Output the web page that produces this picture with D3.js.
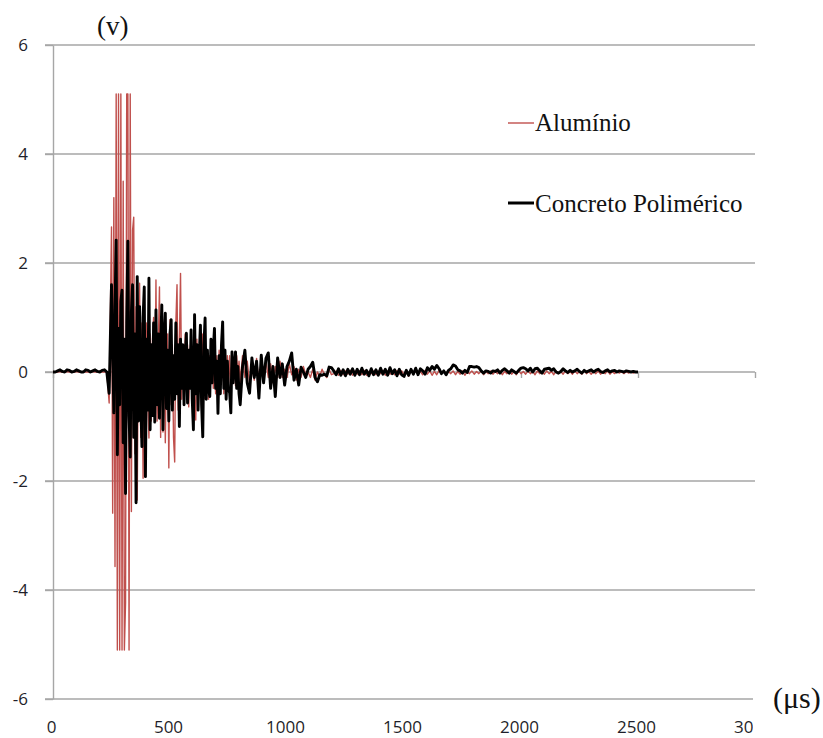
<!DOCTYPE html>
<html>
<head>
<meta charset="utf-8">
<script src="https://cdn.jsdelivr.net/npm/d3@7"></script>
<style>
  body { margin: 0; background: #fff; }
  svg { display: block; }
</style>
</head>
<body>
<svg id="chart" width="823" height="738"></svg>
<script>
// Axis ticks
const xTicks = [0, 500, 1000, 1500, 2000, 2500, 3000];
const yTicks = [-6, -4, -2, 0, 2, 4, 6];

// Series names and colours
const seriesNames = ["Alumínio", "Concreto Polimérico"];
const seriesColors = ["#c0504d", "#000000"];

// Sampling of the recorded signals (µs): pre-trigger, burst and tail segments
const preStart = 0, preStep = 10;
const burstStart = 250, burstStep = 5;
const tailStart = 800, tailStep = 10;
const endTime = 2500;

// Alumínio (V)
const aluminioPre = [
  0.01, 0.0, 0.0, 0.01, 0.0, 0.0, 0.01, 0.0, 0.0, 0.0,
  0.01, 0.0, 0.0, 0.01, 0.0, 0.0, 0.0, 0.01, 0.0, 0.0,
  0.01, 0.0, 0.0, 0.0, -0.57
];
const aluminioBurst = [
  2.66, -2.59, 3.2, -3.57, 5.1, -5.1, 5.1, -5.1, 5.1, -5.1,
  3.5, -5.1, -4.24, 5.1, 5.1, -5.1, 5.1, -2.56, 2.6, 2.84,
  -1.5, 1.2, -2.35, 0.8, 1.63, -1.2, 0.9, -1.95, 1.1, -0.8,
  0.9, -0.5, -1.21, 0.7, -0.9, 0.6, 1.0, -0.7, 1.69, -0.9,
  0.5, 1.56, -1.2, 0.8, -1.1, 0.6, -1.3, 0.5, 0.7, -1.76,
  0.96, -0.6, 0.5, -1.2, -1.65, 0.9, 1.6, -0.7, 0.5, 1.81,
  -0.5, 0.4, -0.6, 0.7, -0.3, 0.5, -0.64, 0.3, 0.6, -0.4,
  0.3, -0.5, -0.88, 0.6, -0.3, 0.5, -0.4, 0.3, 0.7, -0.5,
  0.6, -0.3, 0.4, -0.5, 0.3, -0.2, 0.5, -0.3, 0.2, -0.4,
  0.3, -0.2, 0.4, -0.3, 0.2, 0.5, -0.4, 0.2, -0.3, 0.3,
  -0.2, 0.3, -0.3, 0.25, -0.1, 0.2, -0.25, 0.3, -0.1, 0.2
];
const aluminioTail = [
  -0.2, 0.3, -0.1, 0.2, -0.2, 0.1, -0.15, 0.25, -0.2, 0.1,
  -0.15, 0.2, -0.1, 0.15, -0.2, 0.1, -0.1, 0.2, -0.1, 0.05,
  -0.1, 0.15, -0.05, 0.1, -0.15, 0.05, -0.1, 0.1, -0.05, 0.0,
  -0.1, 0.05, -0.15, 0.0, -0.08, 0.05, -0.05, -0.1, 0.05, -0.05,
  -0.03, 0.02, -0.06, 0.03, -0.05, 0.02, -0.04, 0.03, -0.06, 0.02,
  -0.04, 0.02, -0.05, 0.03, -0.06, 0.01, -0.03, 0.02, -0.05, 0.02,
  -0.03, 0.03, -0.06, 0.02, -0.04, 0.01, -0.05, 0.03, -0.04, 0.02,
  -0.05, 0.02, -0.08, 0.03, -0.04, 0.02, -0.03, 0.01, -0.05, 0.03,
  -0.04, 0.02, -0.06, 0.01, -0.05, 0.03, -0.03, 0.02, -0.04, 0.01,
  -0.03, 0.02, -0.05, 0.01, -0.04, 0.02, -0.06, 0.01, -0.03, 0.02,
  -0.04, 0.01, -0.03, 0.02, -0.05, 0.01, -0.03, 0.02, -0.04, 0.01,
  -0.03, 0.02, -0.05, 0.01, -0.03, 0.02, -0.04, 0.01, -0.05, 0.02,
  -0.03, 0.01, -0.04, 0.02, -0.03, 0.01, -0.05, 0.02, -0.03, 0.01,
  -0.04, 0.02, -0.03, 0.01, -0.05, 0.02, -0.03, 0.01, -0.04, 0.02,
  -0.03, 0.01, -0.04, 0.02, -0.03, 0.01, -0.04, 0.02, -0.03, 0.01,
  -0.04, 0.01, -0.03, 0.02, -0.04, 0.01, -0.03, 0.02, -0.04, 0.01,
  -0.03, 0.01, -0.02, 0.01, -0.03, 0.01, -0.02, 0.01, -0.02, 0.0,
  0.0
];

// Concreto Polimérico (V)
const concretoPre = [
  0.0, 0.0, 0.02, 0.04, 0.01, 0.0, 0.04, 0.03, 0.0, 0.01,
  0.04, 0.02, 0.0, 0.0, 0.04, 0.03, 0.0, 0.02, 0.04, 0.01,
  0.0, 0.03, 0.04, 0.0, -0.39
];
const concretoBurst = [
  1.6, 0.4, -0.75, 1.2, 2.42, -1.52, 0.8, -0.6, 1.3, 1.5,
  -1.3, 0.6, -2.23, 0.9, 2.4, -0.8, -1.56, 1.1, 1.6, -1.2,
  0.7, -2.4, 1.75, -0.9, 1.2, -0.5, -1.37, 1.0, 1.56, -1.92,
  0.6, -0.7, 1.72, -1.06, 0.5, -0.8, 0.9, -0.92, 1.14, -0.6,
  0.7, -0.85, 0.5, 1.23, -1.06, 0.6, 1.08, -0.67, 0.4, -0.9,
  0.7, 0.96, -0.7, 0.3, -0.5, 0.9, -0.4, 0.5, -1.0, 0.6,
  -0.3, 0.5, -0.6, 0.3, 0.71, -0.57, 0.4, -0.3, 0.77, -0.5,
  -1.06, 1.05, -0.4, 0.5, -0.7, 0.3, 0.86, -0.6, -1.19, 0.5,
  0.99, -0.5, 0.4, -0.3, -0.45, 0.6, -0.2, 0.4, 0.8, -0.3,
  0.2, -0.76, 0.3, -0.4, 0.5, 0.92, -0.3, 0.4, -0.5, 0.2,
  -0.3, -0.39, -0.75, 0.37, -0.2, 0.1, 0.37, -0.3, 0.1, -0.4
];
const concretoTail = [
  -0.6, 0.1, 0.4, -0.2, -0.39, 0.26, -0.1, 0.2, -0.48, 0.31,
  -0.2, 0.25, 0.35, -0.3, 0.1, -0.45, 0.26, -0.1, 0.15, -0.24,
  0.1, 0.2, 0.35, -0.15, 0.05, -0.24, 0.09, 0.0, -0.1, 0.05,
  0.1, 0.18, -0.1, -0.18, -0.05, -0.06, -0.04, -0.07, 0.09, 0.08,
  0.02, -0.05, 0.06, -0.06, 0.04, -0.07, 0.05, -0.04, 0.06, -0.06,
  0.05, -0.05, 0.07, -0.04, 0.03, -0.07, 0.06, -0.05, 0.04, -0.06,
  0.07, -0.04, 0.05, -0.06, 0.08, -0.03, 0.04, -0.07, 0.05, -0.05,
  -0.08, 0.03, -0.06, 0.05, -0.04, 0.07, -0.05, 0.06, 0.02, -0.04,
  0.08, 0.03, 0.1, 0.05, 0.12, 0.06, -0.03, 0.02, -0.05, 0.03,
  0.06, 0.13, 0.11, 0.04, 0.02, -0.02, 0.03, -0.01, 0.1, 0.1,
  0.09, 0.1, 0.08, 0.02, -0.02, 0.02, 0.01, -0.02, 0.02, 0.01,
  0.04, -0.02, 0.03, 0.06, 0.02, -0.02, 0.04, 0.01, -0.02, 0.03,
  0.07, 0.08, 0.06, 0.02, 0.07, 0.0, 0.06, 0.07, 0.02, -0.02,
  0.05, 0.06, 0.07, 0.03, 0.06, 0.0, -0.02, 0.01, 0.06, 0.02,
  -0.01, 0.03, 0.0, 0.02, 0.05, 0.01, -0.02, 0.03, 0.0, 0.02,
  0.04, 0.0, 0.03, 0.05, 0.01, -0.01, 0.02, 0.04, 0.0, 0.02,
  0.03, 0.0, 0.02, 0.01, 0.0, 0.02, 0.01, 0.0, 0.01, 0.0,
  0.0
];

// Join the segments of one recording into (time, value) pairs
function toPoints(pre, burst, tail) {
  const pts = [];
  pre.forEach((v, i) => pts.push([preStart + i * preStep, v]));
  burst.forEach((v, i) => pts.push([burstStart + i * burstStep, v]));
  tail.forEach((v, i) => pts.push([Math.min(tailStart + i * tailStep, endTime), v]));
  return pts;
}

const series = [
  toPoints(aluminioPre, aluminioBurst, aluminioTail),
  toPoints(concretoPre, concretoBurst, concretoTail)
];

const svg = d3.select("#chart");
const plotLeft = 53, plotRight = 755, plotTop = 45, plotBottom = 699;
const gridLeft = 45;

const x = d3.scaleLinear().domain([0, 3000]).range([plotLeft, plotRight]);
const y = d3.scaleLinear().domain([-6, 6]).range([plotBottom, plotTop]);

const gridColor = "#a6a6a6";
const tickFont = "'Open Sans', 'Noto Sans', sans-serif";
const serifFont = "'Liberation Serif', 'Times New Roman', serif";
const plainNumber = d => String(d);

// Horizontal gridlines
svg.append("g")
  .selectAll("line")
  .data(yTicks)
  .join("line")
  .attr("x1", gridLeft)
  .attr("x2", plotRight)
  .attr("y1", d => y(d))
  .attr("y2", d => y(d))
  .attr("stroke", gridColor)
  .attr("stroke-width", 1.4);

// Vertical axis with labels
const yAxis = svg.append("g")
  .attr("transform", `translate(${plotLeft},0)`)
  .call(d3.axisLeft(y).tickValues(yTicks).tickSize(plotLeft - gridLeft).tickSizeOuter(0)
    .tickPadding(17).tickFormat(plainNumber));
yAxis.select(".domain").attr("stroke", gridColor).attr("stroke-width", 1.4);
yAxis.selectAll(".tick line").attr("stroke", gridColor).attr("stroke-width", 1.4);
yAxis.selectAll(".tick text")
  .attr("fill", "#1f1f2a")
  .style("font-family", tickFont)
  .style("font-size", "17px");

// Tick marks on the zero line
const zeroAxis = svg.append("g")
  .attr("transform", `translate(0,${y(0)})`)
  .call(d3.axisBottom(x).tickValues(xTicks).tickSize(6).tickFormat(""));
zeroAxis.select(".domain").remove();
zeroAxis.selectAll(".tick line").attr("stroke", gridColor).attr("stroke-width", 1.4);

// Time labels along the bottom
const xAxis = svg.append("g")
  .attr("transform", `translate(0,${plotBottom})`)
  .call(d3.axisBottom(x).tickValues(xTicks).tickSize(0).tickPadding(22).tickFormat(plainNumber));
xAxis.select(".domain").remove();
xAxis.selectAll(".tick text")
  .attr("fill", "#1f1f2a")
  .attr("dx", -2)
  .style("font-family", tickFont)
  .style("font-size", "17px");

// Signals
const line = d3.line()
  .x(d => x(d[0]))
  .y(d => y(d[1]));

svg.append("path")
  .datum(series[0])
  .attr("d", line)
  .attr("fill", "none")
  .attr("stroke", seriesColors[0])
  .attr("stroke-width", 1.4)
  .attr("stroke-linejoin", "round");

svg.append("path")
  .datum(series[1])
  .attr("d", line)
  .attr("fill", "none")
  .attr("stroke", seriesColors[1])
  .attr("stroke-width", 2.9)
  .attr("stroke-linejoin", "round");

// Legend
const legendRows = [
  { name: seriesNames[0], color: seriesColors[0], width: 1.4, ly: 123, ty: 131 },
  { name: seriesNames[1], color: seriesColors[1], width: 3, ly: 203, ty: 212 }
];
const legend = svg.append("g");
legendRows.forEach(r => {
  legend.append("line")
    .attr("x1", 508).attr("x2", 534)
    .attr("y1", r.ly).attr("y2", r.ly)
    .attr("stroke", r.color)
    .attr("stroke-width", r.width);
  legend.append("text")
    .attr("x", 535).attr("y", r.ty)
    .attr("fill", "#111")
    .style("font-family", serifFont)
    .style("font-size", "25px")
    .text(r.name);
});

// Unit labels
svg.append("text")
  .attr("x", 97).attr("y", 35)
  .attr("fill", "#111")
  .style("font-family", serifFont)
  .style("font-size", "27px")
  .text("(v)");

svg.append("rect")
  .attr("x", 753).attr("y", 670)
  .attr("width", 70).attr("height", 65)
  .attr("fill", "#fff");

svg.append("text")
  .attr("x", 773).attr("y", 708)
  .attr("fill", "#111")
  .style("font-family", serifFont)
  .style("font-size", "30px")
  .text("(μs)");
</script>
</body>
</html>
